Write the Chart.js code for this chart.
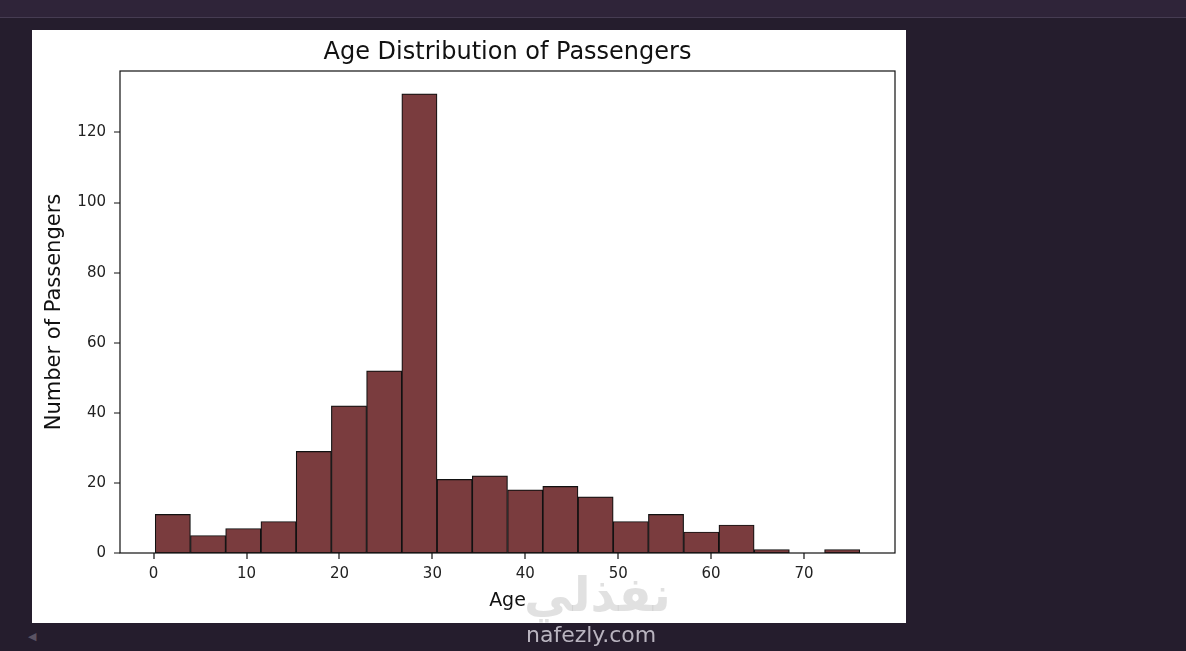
<!DOCTYPE html>
<html>
<head>
<meta charset="utf-8">
<script src="https://cdn.jsdelivr.net/npm/chart.js@4.4.1/dist/chart.umd.min.js"></script>
<style>
  html, body { margin: 0; padding: 0; }
  body { width: 1186px; height: 651px; background: #251d2d; position: relative; overflow: hidden; font-family: "DejaVu Sans", sans-serif; }
  #topbar { position: absolute; left: 0; top: 0; width: 1186px; height: 17px; background: #2f2439; border-bottom: 1px solid #463c52; }
  #card { position: absolute; left: 32px; top: 30px; width: 874px; height: 593px; background: #fff; }
  #wm-ar { position: absolute; left: 524px; top: 566px; font-size: 48px; font-weight: bold; color: rgba(200,200,200,0.55); font-family: "DejaVu Sans", sans-serif; }
  #wm-en { position: absolute; left: 526px; top: 622px; font-size: 22px; color: #b9b4bf; font-family: "DejaVu Sans", sans-serif; }
  #arrow { position: absolute; left: 28px; top: 630px; font-size: 11px; color: #5a5363; }
</style>
</head>
<body>
<div id="topbar"></div>
<div id="card"><canvas id="ageChart" width="874" height="593"></canvas></div>
<div id="wm-ar">نفذلي</div>
<div id="wm-en">nafezly.com</div>
<div id="arrow">◀</div>
<script>
// histogram bin edges (ages) and counts per bin
const binEdges = [0.17, 3.96, 7.75, 11.54, 15.34, 19.13, 22.92, 26.71, 30.50, 34.29, 38.09,
                  41.88, 45.67, 49.46, 53.25, 57.04, 60.84, 64.63, 68.42, 72.21, 76.0];
const counts = [11, 5, 7, 9, 29, 42, 52, 131, 21, 22, 18, 19, 16, 9, 11, 6, 8, 1, 0, 1];
const xTicks = [0, 10, 20, 30, 40, 50, 60, 70];
const yTicks = [0, 20, 40, 60, 80, 100, 120];

const barData = counts.map((c, i) => ({ x: (binEdges[i] + binEdges[i + 1]) / 2, y: c }));

const tickFont = { family: 'DejaVu Sans', size: 15 };

// matplotlib style box frame + outward tick marks
const framePlugin = {
    id: 'frame',
    afterDatasetsDraw(chart) {
        const { ctx, chartArea: a, scales } = chart;
        ctx.save();
        ctx.strokeStyle = '#111';
        ctx.lineWidth = 1.2;
        ctx.strokeRect(a.left, a.top, a.right - a.left, a.bottom - a.top);
        ctx.beginPath();
        xTicks.forEach(v => {
            const px = Math.round(scales.x.getPixelForValue(v));
            ctx.moveTo(px, a.bottom);
            ctx.lineTo(px, a.bottom + 6);
        });
        yTicks.forEach(v => {
            const py = Math.round(scales.y.getPixelForValue(v));
            ctx.moveTo(a.left, py);
            ctx.lineTo(a.left - 6, py);
        });
        ctx.stroke();
        ctx.restore();
    }
};

const ctx = document.getElementById('ageChart').getContext('2d');
new Chart(ctx, {
    type: 'bar',
    data: {
        datasets: [{
            data: barData,
            backgroundColor: '#7a3c3e',
            borderColor: '#111',
            borderWidth: 1.2,
            borderSkipped: false,
            barPercentage: 1,
            categoryPercentage: 1
        }]
    },
    options: {
        responsive: false,
        animation: false,
        devicePixelRatio: 1,
        layout: { padding: { top: 41, right: 11, left: 0, bottom: 0 } },
        plugins: {
            legend: { display: false },
            tooltip: { enabled: false },
            title: { display: false }
        },
        scales: {
            x: {
                type: 'linear',
                min: -3.62,
                max: 79.79,
                offset: false,
                afterBuildTicks: s => { s.ticks = xTicks.map(v => ({ value: v })); },
                afterFit: s => { s.height = 70; },
                grid: { display: false },
                border: { display: false },
                ticks: { color: '#222', font: tickFont, padding: 4, maxRotation: 0 },
                title: { display: true, text: 'Age', color: '#111', font: { family: 'DejaVu Sans', size: 19 }, padding: { top: 0, bottom: 11 } }
            },
            y: {
                min: 0,
                max: 137.55,
                afterBuildTicks: s => { s.ticks = yTicks.map(v => ({ value: v })); },
                afterFit: s => { s.width = 88; },
                grid: { display: false },
                border: { display: false },
                ticks: { color: '#222', font: tickFont, padding: 6 },
                title: { display: true, text: 'Number of Passengers', color: '#111', font: { family: 'DejaVu Sans', size: 21 }, padding: { top: 10, bottom: 0 } }
            }
        }
    },
    plugins: [framePlugin, {
        id: 'topTitle',
        afterDraw(chart) {
            const c = chart.ctx;
            c.save();
            c.fillStyle = '#111';
            c.font = '24px "DejaVu Sans"';
            c.textAlign = 'center';
            c.textBaseline = 'middle';
            const a = chart.chartArea;
            c.fillText('Age Distribution of Passengers', (a.left + a.right) / 2, 23);
            c.restore();
        }
    }]
});
</script>
</body>
</html>
